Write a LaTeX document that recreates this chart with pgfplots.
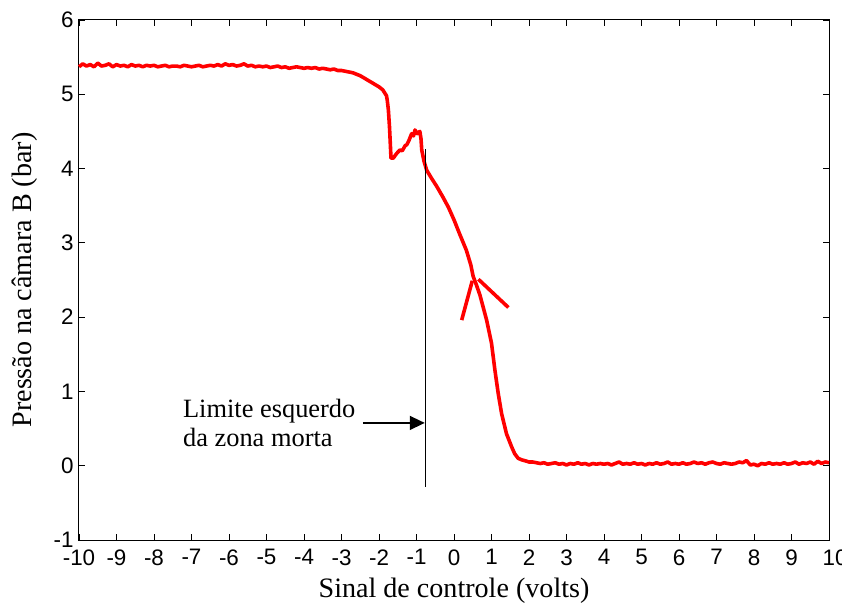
\documentclass[border=0pt]{standalone}
\usepackage{pgfplots}
\pgfplotsset{compat=1.18}
\usetikzlibrary{arrows.meta}
\usepackage{fontspec}
\setmainfont{Liberation Serif}
\newfontfamily\arialf{Liberation Sans}
\begin{document}
\begin{tikzpicture}
\begin{axis}[
  scale only axis, width=750bp, height=520bp,
  xmin=-10, xmax=10, ymin=-1, ymax=6,
  xtick={-10,-9,...,10},
  xticklabels={-10\hspace{10bp},-9,-8,-7,-6,-5,-4,-3,-2,-1,0,1,2,3,4,5,6,7,8,9,\hspace{12bp}10},
  ytick={-1,0,...,6},
  yticklabels={-1,0,1,2,3,4,5,6},
  tick align=inside, major tick length=6bp,
  axis line style={line width=1bp, black},
  every tick/.style={black, line width=0.8bp},
  tick label style={font=\arialf\fontsize{22.5}{26}\selectfont},
  xticklabel style={yshift=-6bp},
  yticklabel style={xshift=-2bp},
  xlabel={Sinal de controle (volts)},
  ylabel={Pressão na câmara B (bar)},
  label style={font=\fontsize{28.2}{33}\selectfont},
  xlabel style={at={(axis description cs:0.5,0)}, anchor=center, yshift=-51bp},
  ylabel style={at={(axis description cs:0,0.5)}, anchor=center, yshift=54bp},
  clip=false,
]
\addplot[red, line width=3.6bp, line join=round] coordinates {
(-10.0,5.37) (-9.9,5.41) (-9.8,5.38) (-9.7,5.40) (-9.6,5.37) (-9.5,5.42) (-9.4,5.38) (-9.3,5.39) (-9.2,5.41) (-9.1,5.37)
(-9.0,5.40) (-8.9,5.38) (-8.8,5.39) (-8.7,5.37) (-8.6,5.40) (-8.5,5.38) (-8.4,5.39) (-8.3,5.37) (-8.2,5.39) (-8.1,5.38)
(-8.0,5.39) (-7.9,5.37) (-7.8,5.38) (-7.7,5.39) (-7.6,5.37) (-7.5,5.38) (-7.4,5.38) (-7.3,5.37) (-7.2,5.39) (-7.1,5.38)
(-7.0,5.37) (-6.9,5.38) (-6.8,5.39) (-6.7,5.37) (-6.6,5.38) (-6.5,5.39) (-6.4,5.38) (-6.3,5.40) (-6.2,5.38) (-6.1,5.41)
(-6.0,5.39) (-5.9,5.40) (-5.8,5.38) (-5.7,5.39) (-5.6,5.41) (-5.5,5.38) (-5.4,5.39) (-5.3,5.37) (-5.2,5.38) (-5.1,5.37)
(-5.0,5.38) (-4.9,5.36) (-4.8,5.37) (-4.7,5.38) (-4.6,5.36) (-4.5,5.37) (-4.4,5.35) (-4.3,5.36) (-4.2,5.37) (-4.1,5.36)
(-4.0,5.35) (-3.9,5.36) (-3.8,5.35) (-3.7,5.36) (-3.6,5.34) (-3.5,5.35) (-3.4,5.34) (-3.3,5.33) (-3.2,5.34) (-3.1,5.32)
(-3.0,5.32) (-2.9,5.31) (-2.8,5.30) (-2.7,5.29) (-2.6,5.27) (-2.5,5.25) (-2.4,5.22) (-2.3,5.19) (-2.2,5.16) (-2.1,5.13)
(-2.0,5.10) (-1.9,5.06) (-1.8,4.98) (-1.78,4.92) (-1.75,4.79) (-1.72,4.56) (-1.70,4.35) (-1.68,4.14) (-1.62,4.14)
(-1.55,4.19) (-1.50,4.22) (-1.44,4.25) (-1.38,4.24) (-1.30,4.31) (-1.26,4.32) (-1.20,4.38) (-1.13,4.47) (-1.08,4.44)
(-1.04,4.52) (-0.98,4.47) (-0.91,4.50) (-0.88,4.40) (-0.86,4.25) (-0.80,4.10) (-0.73,3.98) (-0.60,3.87) (-0.46,3.76)
(-0.30,3.62) (-0.15,3.48) (0.00,3.31) (0.15,3.12) (0.33,2.90) (0.45,2.70) (0.51,2.55) (0.60,2.43) (0.69,2.30)
(0.78,2.13) (0.87,1.96) (1.00,1.65) (1.09,1.29) (1.18,0.97) (1.27,0.70) (1.40,0.43) (1.54,0.25) (1.62,0.16)
(1.71,0.10) (1.80,0.08) (1.94,0.06) (2.0,0.05)
(2.1,0.05) (2.2,0.04) (2.3,0.03) (2.4,0.04) (2.5,0.02) (2.6,0.03) (2.7,0.04) (2.8,0.02) (2.9,0.03) (3.0,0.01)
(3.1,0.03) (3.2,0.02) (3.3,0.04) (3.4,0.02) (3.5,0.03) (3.6,0.01) (3.7,0.03) (3.8,0.02) (3.9,0.03) (4.0,0.02)
(4.1,0.03) (4.2,0.01) (4.3,0.03) (4.4,0.05) (4.5,0.02) (4.6,0.03) (4.7,0.02) (4.8,0.04) (4.9,0.02) (5.0,0.03)
(5.1,0.01) (5.2,0.03) (5.3,0.02) (5.4,0.04) (5.5,0.02) (5.6,0.03) (5.7,0.05) (5.8,0.02) (5.9,0.03) (6.0,0.02)
(6.1,0.04) (6.2,0.02) (6.3,0.03) (6.4,0.05) (6.5,0.03) (6.6,0.04) (6.7,0.02) (6.8,0.04) (6.9,0.05) (7.0,0.03)
(7.1,0.02) (7.2,0.04) (7.3,0.03) (7.4,0.02) (7.5,0.03) (7.6,0.05) (7.7,0.04) (7.8,0.07) (7.9,0.01) (8.0,0.02)
(8.1,0.00) (8.2,0.03) (8.3,0.02) (8.4,0.04) (8.5,0.02) (8.6,0.03) (8.7,0.02) (8.8,0.04) (8.9,0.02) (9.0,0.03)
(9.1,0.05) (9.2,0.02) (9.3,0.04) (9.4,0.03) (9.5,0.05) (9.6,0.02) (9.7,0.06) (9.8,0.03) (9.9,0.05) (10.0,0.04)
};
% red V annotation
\addplot[red, line width=3.6bp] coordinates {(0.205,1.96) (0.488,2.49)};
\addplot[red, line width=3.6bp] coordinates {(0.65,2.51) (1.45,2.13)};
% dead-zone limit line
\addplot[black, line width=1.2bp] coordinates {(-0.75,4.26) (-0.75,-0.28)};
\draw[black, line width=1.5bp, -{Triangle[length=15bp,width=14bp]}] (axis cs:-2.43,0.576) -- (axis cs:-0.78,0.576);
\node[anchor=west, align=left, font=\fontsize{26.5}{30}\selectfont, inner sep=0pt] at (axis cs:-7.23,0.576) {Limite esquerdo\\da zona morta};
\end{axis}
\pgfresetboundingbox
\path[use as bounding box] (-79bp,-65bp) rectangle (763bp,540bp);
\end{tikzpicture}
\end{document}
